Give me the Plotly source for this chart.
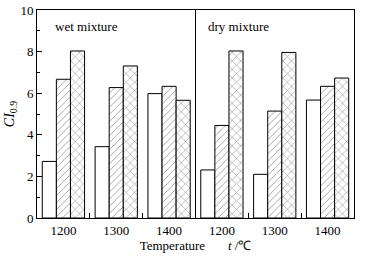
import plotly.graph_objects as go

groups = ["1200", "1300", "1400", "1200", "1300", "1400"]
white_vals = [2.72, 3.43, 5.98, 2.31, 2.10, 5.67]
hatch_vals = [6.67, 6.27, 6.33, 4.45, 5.14, 6.33]
cross_vals = [8.03, 7.31, 5.66, 8.03, 7.96, 6.73]
y_ticks = [0, 2, 4, 6, 8, 10]
panel_labels = ["wet mixture", "dry mixture"]

FONT = "Liberation Serif"
xpos = list(range(len(groups)))

fig = go.Figure()
fig.add_trace(go.Bar(x=xpos, y=white_vals, marker=dict(color="white", line=dict(color="black", width=1))))
fig.add_trace(go.Bar(x=xpos, y=hatch_vals, marker=dict(color="white", line=dict(color="black", width=1),
                     pattern=dict(shape="/", fgcolor="#222", bgcolor="white", size=5, solidity=0.16))))
fig.add_trace(go.Bar(x=xpos, y=cross_vals, marker=dict(color="white", line=dict(color="black", width=1),
                     pattern=dict(shape="x", fgcolor="#222", bgcolor="white", size=6, solidity=0.18))))

fig.update_layout(
    width=365, height=256,
    margin=dict(l=37, r=11, t=10, b=38),
    plot_bgcolor="white", paper_bgcolor="white",
    barmode="group", bargap=0.2, bargroupgap=0,
    showlegend=False,
    font=dict(family=FONT, size=13, color="black"),
)
fig.update_xaxes(
    range=[-0.5, 5.5], tickvals=xpos, ticktext=groups, ticks="",
    showline=True, linecolor="black", linewidth=1, mirror=True,
    showgrid=False, zeroline=False, automargin=False,
    tickfont=dict(family=FONT, size=13),
    minor=dict(tickmode="array", tickvals=[0.5, 1.5, 3.5, 4.5], ticks="inside", ticklen=5,
               tickcolor="black", tickwidth=1, showgrid=False),
    title=dict(text="Temperature&nbsp;&nbsp;&nbsp;&nbsp;&nbsp;&nbsp;&nbsp;<i>t</i> /℃", font=dict(family=FONT, size=13), standoff=0),
)
fig.update_yaxes(
    range=[0, 10], tickvals=y_ticks, ticks="inside", ticklen=5, tickcolor="black",
    showline=True, linecolor="black", linewidth=1, mirror=True,
    showgrid=False, zeroline=False, automargin=False,
    tickfont=dict(family=FONT, size=13),
    minor=dict(dtick=1, ticks="inside", ticklen=3, tickcolor="black", showgrid=False),
    title=dict(text="<i>CI</i><sub>0.9</sub>", font=dict(family=FONT, size=14), standoff=2),
)
fig.add_shape(type="line", x0=2.5, x1=2.5, y0=0, y1=10, xref="x", yref="y",
              line=dict(color="black", width=1))
fig.add_annotation(x=-0.2, y=9.2, text=panel_labels[0], showarrow=False, xanchor="left",
                   font=dict(family=FONT, size=13))
fig.add_annotation(x=2.7, y=9.2, text=panel_labels[1], showarrow=False, xanchor="left",
                   font=dict(family=FONT, size=13))

fig.write_html("out.html", config={"displayModeBar": False},
               post_script="document.body.style.margin='0';document.body.style.overflow='hidden';")
